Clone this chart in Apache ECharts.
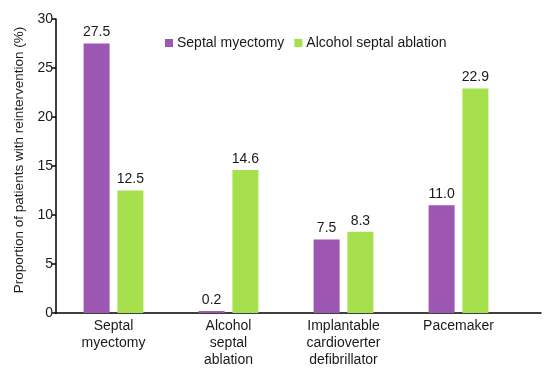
<!DOCTYPE html>
<html><head><meta charset="utf-8">
<script src="https://cdn.jsdelivr.net/npm/echarts@6/dist/echarts.min.js"></script>
<style>html,body{margin:0;padding:0;background:#fff}#c{width:550px;height:370px}</style>
</head><body><div id="c"></div>
<script>
const categories = ["Septal\nmyectomy", "Alcohol\nseptal\nablation", "Implantable\ncardioverter\ndefibrillator", "Pacemaker"];
const seriesNames = ["Septal myectomy", "Alcohol septal ablation"];
const septalMyectomy = [27.5, 0.2, 7.5, 11.0];
const alcoholAblation = [12.5, 14.6, 8.3, 22.9];
const yTicks = [0, 5, 10, 15, 20, 25, 30];
const yTitle = "Proportion of patients with reintervention (%)";

const FONT = "Liberation Sans";
const TXT = "#1a1a1a";
const chart = echarts.init(document.getElementById('c'), null, {renderer: 'canvas'});
const lbl = {show: true, position: 'top', distance: 4, fontFamily: FONT, fontSize: 14, color: TXT, formatter: p => p.value.toFixed(1)};
chart.setOption({
  animation: false,
  textStyle: {fontFamily: FONT},
  legend: {
    data: seriesNames, left: 160, top: 31, itemWidth: 8, itemHeight: 8, itemGap: 10,
    icon: 'rect', textStyle: {fontFamily: FONT, fontSize: 14, color: TXT, padding: [0,0,0,-1]}
  },
  grid: [
    {left: 56, right: 34, top: 19, bottom: 57, outerBoundsMode: 'none', containLabel: false},
    {left: 56, right: 9, top: 19, bottom: 57, outerBoundsMode: 'none', containLabel: false}
  ],
  xAxis: [
    {type: 'category', gridIndex: 0, data: categories,
     axisLine: {show: false}, axisTick: {show: false},
     axisLabel: {fontFamily: FONT, fontSize: 14, color: TXT, lineHeight: 17, margin: 5}},
    {type: 'value', gridIndex: 1, min: 0, max: 1,
     axisLine: {show: true, lineStyle: {color: '#000', width: 1.5}},
     axisTick: {show: false}, axisLabel: {show: false}, splitLine: {show: false}}
  ],
  yAxis: [
    {type: 'value', gridIndex: 0, min: yTicks[0], max: yTicks[yTicks.length-1], interval: 5,
     name: yTitle, nameLocation: 'middle', nameGap: 30, nameRotate: 90,
     nameTextStyle: {fontFamily: FONT, fontSize: 13.5, color: TXT, padding: [0, 0, 0, 12]},
     axisLine: {show: true, lineStyle: {color: '#000', width: 1.5}},
     axisTick: {show: true, length: 4, lineStyle: {color: '#000', width: 1.5}},
     axisLabel: {fontFamily: FONT, fontSize: 14, color: TXT, margin: 3},
     splitLine: {show: false}},
    {type: 'value', gridIndex: 1, min: 0, max: 1, show: false}
  ],
  series: [
    {name: seriesNames[0], type: 'bar', xAxisIndex: 0, yAxisIndex: 0, data: septalMyectomy,
     barWidth: 26, barGap: '30%', itemStyle: {color: '#9B57B1'}, label: lbl},
    {name: seriesNames[1], type: 'bar', xAxisIndex: 0, yAxisIndex: 0, data: alcoholAblation,
     barWidth: 26, barGap: '30%', itemStyle: {color: '#A6E04D'}, label: lbl}
  ]
});
</script></body></html>
